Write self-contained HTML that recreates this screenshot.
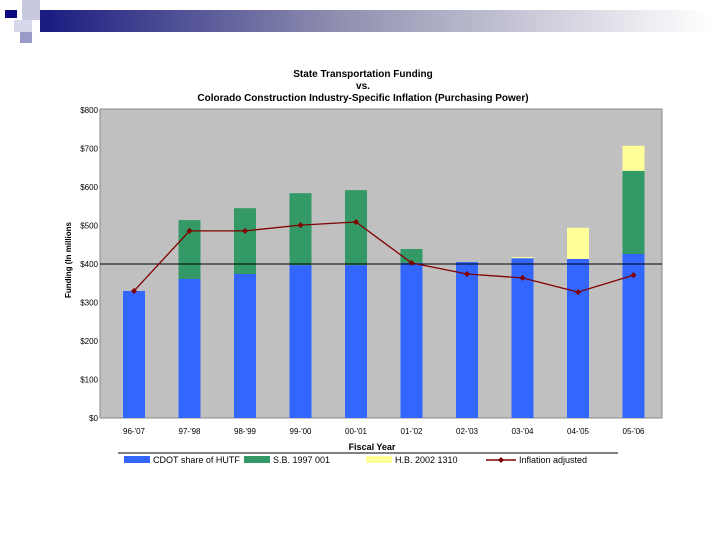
<!DOCTYPE html>
<html><head><meta charset="utf-8"><style>
body{margin:0;width:720px;height:540px;background:#fff;overflow:hidden;font-family:"Liberation Sans",sans-serif}
</style></head><body>
<svg width="720" height="540">
<defs><linearGradient id="hg" x1="0" x2="1"><stop offset="0" stop-color="#1a1a80"/><stop offset="0.45" stop-color="#9090b0"/><stop offset="1" stop-color="#ffffff"/></linearGradient></defs>
<g>
<rect x="40" y="10" width="670" height="22" fill="url(#hg)"/>
<rect x="5" y="10" width="12" height="8" fill="#0a0a80"/>
<rect x="22" y="0" width="18" height="20" fill="#c8c8e0"/>
<rect x="14" y="20" width="18" height="12" fill="#d8d8ec"/>
<rect x="20" y="32" width="12" height="11" fill="#9a9ac8"/>
</g>
<g font-size="10" font-weight="bold" text-anchor="middle" fill="#000">
<text x="363" y="77">State Transportation Funding</text>
<text x="363" y="89">vs.</text>
<text x="363" y="101">Colorado Construction Industry-Specific Inflation (Purchasing Power)</text>
</g>
<rect x="100" y="109" width="562" height="309" fill="#c0c0c0" stroke="#888" stroke-width="1"/>
<g id="yaxis"></g>
<g id="bars"></g>
<line id="ref" stroke="#000" stroke-width="1"/>
<g id="line"></g>
<g id="xaxis"></g>
<text transform="translate(71,260) rotate(-90)" font-size="8" font-weight="bold" text-anchor="middle">Funding (In millions</text>
<text x="372" y="450" font-size="9" font-weight="bold" text-anchor="middle">Fiscal Year</text>
<line x1="118" y1="453" x2="618" y2="453" stroke="#000"/>
<g font-size="9" fill="#000">
<g><rect x="124" y="456" width="26" height="7" fill="#3366ff"/><text x="153" y="463">CDOT share of HUTF</text></g>
<g><rect x="244" y="456" width="26" height="7" fill="#339966"/><text x="273" y="463">S.B. 1997 001</text></g>
<g><rect x="366" y="456" width="26" height="7" fill="#ffff99"/><text x="395" y="463">H.B. 2002 1310</text></g>
<g><line x1="486" y1="460" x2="516" y2="460" stroke="#800000" stroke-width="1.5"/><path d="M501 457 L504 460 L501 463 L498 460Z" fill="#800000"/><text x="519" y="463">Inflation adjusted</text></g>
</g>
</svg>
<script>
const categories=["96-'07","97-'98","98-'99","99-'00","00-'01","01-'02","02-'03","03-'04","04-'05","05-'06"];
const cdot=[330,361,374,397,397,403,405,415,413,426];
const sb=[0,153,171,187,195,36,0,0,0,216];
const hb=[0,0,0,0,0,0,0,3,81,65];
const inflation=[330,486,486,501,509,403,374,364,327,371];
const yTicks=[0,100,200,300,400,500,600,700,800];
const ns="http://www.w3.org/2000/svg";
const y=v=>418-v*0.385;
const x=i=>134+i*55.5;
const bw=22;
function mk(t,a,p){const e=document.createElementNS(ns,t);for(const k in a)e.setAttribute(k,a[k]);p.appendChild(e);return e;}
const ya=document.getElementById('yaxis');
yTicks.forEach(v=>{const t=mk('text',{x:98,y:y(v)+3,'font-size':8,'text-anchor':'end',fill:'#000'},ya);t.textContent='$'+v;

});
const bg=document.getElementById('bars');
categories.forEach((c,i)=>{
 let base=0;
 [[cdot,'#3366ff','bar-cdot'],[sb,'#339966','bar-sb'],[hb,'#ffff99','bar-hb']].forEach(([arr,col,nm])=>{
  const v=arr[i]; if(v<=0)return;
  const r=mk('rect',{x:x(i)-bw/2,y:y(base+v),width:bw,height:y(base)-y(base+v),fill:col},bg);
  
  
  base+=v;
 });
});
const ref=document.getElementById('ref');
ref.setAttribute('x1',100);ref.setAttribute('x2',662);ref.setAttribute('y1',y(400));ref.setAttribute('y2',y(400));
const lg=document.getElementById('line');
const p=mk('polyline',{points:inflation.map((v,i)=>x(i)+','+y(v)).join(' '),fill:'none',stroke:'#800000','stroke-width':1.3},lg);


inflation.forEach((v,i)=>{const m=mk('path',{d:`M${x(i)} ${y(v)-3}L${x(i)+3} ${y(v)}L${x(i)} ${y(v)+3}L${x(i)-3} ${y(v)}Z`,fill:'#800000'},lg);

});
const xa=document.getElementById('xaxis');
categories.forEach((c,i)=>{const t=mk('text',{x:x(i),y:434,'font-size':8,'text-anchor':'middle',fill:'#000'},xa);t.textContent=c;

});
</script>
</body></html>
